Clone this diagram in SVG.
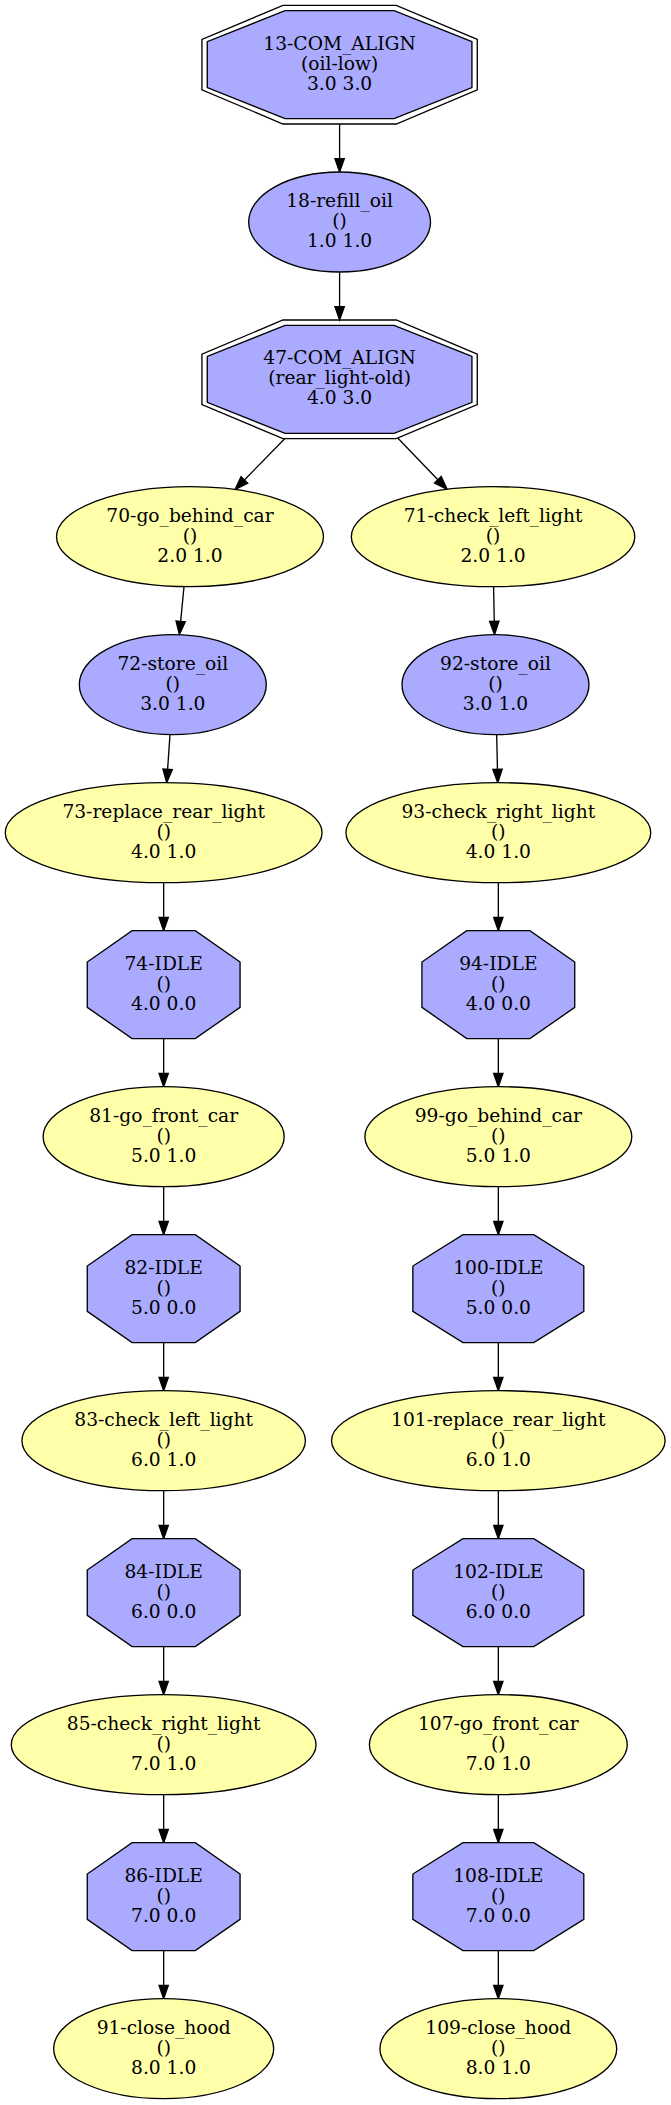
<svg xmlns="http://www.w3.org/2000/svg" width="671" height="2105" viewBox="0 0 671 2105">
<style>
.b{fill:#aaaaff;stroke:#000;stroke-width:1}
.y{fill:#ffffaa;stroke:#000;stroke-width:1}
.o{fill:none;stroke:#000;stroke-width:1}
.e{fill:none;stroke:#000;stroke-width:1;marker-end:url(#ah)}
text{font-family:"DejaVu Serif","Liberation Serif",serif;font-size:14px;text-anchor:middle;fill:#000}
</style>
<defs>
<marker id="ah" markerUnits="userSpaceOnUse" markerWidth="12" markerHeight="9" viewBox="0 -4.5 12 9" refX="0" refY="0" orient="auto" overflow="visible">
<path d="M0,-3.5L10,0L0,3.5z" fill="#000" stroke="#000" stroke-width="1"/>
</marker>
</defs>
<rect width="671" height="2105" fill="#fff"/>
<g transform="scale(1.33333)">
<g id="connectors">
<path class="e" d="M254.7,93V119"/>
<path class="e" d="M254.7,204V230"/>
<path class="e" d="M213.5,329L183.3,360"/>
<path class="e" d="M298.5,328.7L328.4,359.8"/>
<path class="e" d="M138,440L135.5,466"/>
<path class="e" d="M127.5,551L125.7,577"/>
<path class="e" d="M122.75,662V688"/>
<path class="e" d="M122.75,779V805"/>
<path class="e" d="M122.75,890V916"/>
<path class="e" d="M122.75,1007V1033"/>
<path class="e" d="M122.75,1118V1144"/>
<path class="e" d="M122.75,1235V1261"/>
<path class="e" d="M122.75,1346V1372"/>
<path class="e" d="M122.75,1463V1489"/>
<path class="e" d="M370.2,440L370.7,466"/>
<path class="e" d="M372.5,551L373.1,577"/>
<path class="e" d="M373.75,662V688"/>
<path class="e" d="M373.75,779V805"/>
<path class="e" d="M373.75,890V916"/>
<path class="e" d="M373.75,1007V1033"/>
<path class="e" d="M373.75,1118V1144"/>
<path class="e" d="M373.75,1235V1261"/>
<path class="e" d="M373.75,1346V1372"/>
<path class="e" d="M373.75,1463V1489"/>
</g>
<g id="n13">
<polygon class="b" points="353.95,31.3 295.6,8 213.8,8 155.45,31.3 155.45,65.7 213.8,89 295.6,89 353.95,65.7"/>
<polygon class="o" points="357.95,29.6 297.2,4 212.2,4 151.45,29.6 151.45,67.4 212.2,93 297.2,93 357.95,67.4"/>
<text x="254.7" y="37.2">13-COM_ALIGN</text><text x="254.7" y="52.2">(oil-low)</text><text x="254.7" y="67.2">3.0 3.0</text>
</g>
<g id="n18">
<ellipse class="b" cx="254.7" cy="166.5" rx="68.2" ry="37.5"/>
<text x="254.7" y="155.2">18-refill_oil</text><text x="254.7" y="170.2">()</text><text x="254.7" y="185.2">1.0 1.0</text>
</g>
<g id="n47">
<polygon class="b" points="353.95,267.3 295.6,244 213.8,244 155.45,267.3 155.45,301.7 213.8,325 295.6,325 353.95,301.7"/>
<polygon class="o" points="357.95,265.6 297.2,240 212.2,240 151.45,265.6 151.45,303.4 212.2,329 297.2,329 357.95,303.4"/>
<text x="254.7" y="273.2">47-COM_ALIGN</text><text x="254.7" y="288.2">(rear_light-old)</text><text x="254.7" y="303.2">4.0 3.0</text>
</g>
<g id="n70">
<ellipse class="y" cx="142.5" cy="402.5" rx="100.1" ry="37.5"/>
<text x="142.5" y="391.2">70-go_behind_car</text><text x="142.5" y="406.2">()</text><text x="142.5" y="421.2">2.0 1.0</text>
</g>
<g id="n71">
<ellipse class="y" cx="369.8" cy="402.5" rx="106.3" ry="37.5"/>
<text x="369.8" y="391.2">71-check_left_light</text><text x="369.8" y="406.2">()</text><text x="369.8" y="421.2">2.0 1.0</text>
</g>
<g id="n72">
<ellipse class="b" cx="129.6" cy="513.5" rx="70.1" ry="37.5"/>
<text x="129.6" y="502.2">72-store_oil</text><text x="129.6" y="517.2">()</text><text x="129.6" y="532.2">3.0 1.0</text>
</g>
<g id="n92">
<ellipse class="b" cx="371.6" cy="513.5" rx="70.1" ry="37.5"/>
<text x="371.6" y="502.2">92-store_oil</text><text x="371.6" y="517.2">()</text><text x="371.6" y="532.2">3.0 1.0</text>
</g>
<g id="n73">
<ellipse class="y" cx="122.75" cy="624.5" rx="118.8" ry="37.5"/>
<text x="122.75" y="613.2">73-replace_rear_light</text><text x="122.75" y="628.2">()</text><text x="122.75" y="643.2">4.0 1.0</text>
</g>
<g id="n93">
<ellipse class="y" cx="373.75" cy="624.5" rx="114.3" ry="37.5"/>
<text x="373.75" y="613.2">93-check_right_light</text><text x="373.75" y="628.2">()</text><text x="373.75" y="643.2">4.0 1.0</text>
</g>
<g id="n74">
<polygon class="b" points="180.05,721.5 146.45,698 99.05,698 65.45,721.5 65.45,755.5 99.05,779 146.45,779 180.05,755.5"/>
<text x="122.75" y="727.2">74-IDLE</text><text x="122.75" y="742.2">()</text><text x="122.75" y="757.2">4.0 0.0</text>
</g>
<g id="n94">
<polygon class="b" points="431.05,721.5 397.45,698 350.05,698 316.45,721.5 316.45,755.5 350.05,779 397.45,779 431.05,755.5"/>
<text x="373.75" y="727.2">94-IDLE</text><text x="373.75" y="742.2">()</text><text x="373.75" y="757.2">4.0 0.0</text>
</g>
<g id="n81">
<ellipse class="y" cx="122.75" cy="852.5" rx="90.4" ry="37.5"/>
<text x="122.75" y="841.2">81-go_front_car</text><text x="122.75" y="856.2">()</text><text x="122.75" y="871.2">5.0 1.0</text>
</g>
<g id="n99">
<ellipse class="y" cx="373.75" cy="852.5" rx="100.1" ry="37.5"/>
<text x="373.75" y="841.2">99-go_behind_car</text><text x="373.75" y="856.2">()</text><text x="373.75" y="871.2">5.0 1.0</text>
</g>
<g id="n82">
<polygon class="b" points="180.05,949.5 146.45,926 99.05,926 65.45,949.5 65.45,983.5 99.05,1007 146.45,1007 180.05,983.5"/>
<text x="122.75" y="955.2">82-IDLE</text><text x="122.75" y="970.2">()</text><text x="122.75" y="985.2">5.0 0.0</text>
</g>
<g id="n100">
<polygon class="b" points="437.85,949.5 400.3,926 347.2,926 309.65,949.5 309.65,983.5 347.2,1007 400.3,1007 437.85,983.5"/>
<text x="373.75" y="955.2">100-IDLE</text><text x="373.75" y="970.2">()</text><text x="373.75" y="985.2">5.0 0.0</text>
</g>
<g id="n83">
<ellipse class="y" cx="122.75" cy="1080.5" rx="106.3" ry="37.5"/>
<text x="122.75" y="1069.2">83-check_left_light</text><text x="122.75" y="1084.2">()</text><text x="122.75" y="1099.2">6.0 1.0</text>
</g>
<g id="n101">
<ellipse class="y" cx="373.75" cy="1080.5" rx="125.1" ry="37.5"/>
<text x="373.75" y="1069.2">101-replace_rear_light</text><text x="373.75" y="1084.2">()</text><text x="373.75" y="1099.2">6.0 1.0</text>
</g>
<g id="n84">
<polygon class="b" points="180.05,1177.5 146.45,1154 99.05,1154 65.45,1177.5 65.45,1211.5 99.05,1235 146.45,1235 180.05,1211.5"/>
<text x="122.75" y="1183.2">84-IDLE</text><text x="122.75" y="1198.2">()</text><text x="122.75" y="1213.2">6.0 0.0</text>
</g>
<g id="n102">
<polygon class="b" points="437.85,1177.5 400.3,1154 347.2,1154 309.65,1177.5 309.65,1211.5 347.2,1235 400.3,1235 437.85,1211.5"/>
<text x="373.75" y="1183.2">102-IDLE</text><text x="373.75" y="1198.2">()</text><text x="373.75" y="1213.2">6.0 0.0</text>
</g>
<g id="n85">
<ellipse class="y" cx="122.75" cy="1308.5" rx="114.3" ry="37.5"/>
<text x="122.75" y="1297.2">85-check_right_light</text><text x="122.75" y="1312.2">()</text><text x="122.75" y="1327.2">7.0 1.0</text>
</g>
<g id="n107">
<ellipse class="y" cx="373.75" cy="1308.5" rx="96.7" ry="37.5"/>
<text x="373.75" y="1297.2">107-go_front_car</text><text x="373.75" y="1312.2">()</text><text x="373.75" y="1327.2">7.0 1.0</text>
</g>
<g id="n86">
<polygon class="b" points="180.05,1405.5 146.45,1382 99.05,1382 65.45,1405.5 65.45,1439.5 99.05,1463 146.45,1463 180.05,1439.5"/>
<text x="122.75" y="1411.2">86-IDLE</text><text x="122.75" y="1426.2">()</text><text x="122.75" y="1441.2">7.0 0.0</text>
</g>
<g id="n108">
<polygon class="b" points="437.85,1405.5 400.3,1382 347.2,1382 309.65,1405.5 309.65,1439.5 347.2,1463 400.3,1463 437.85,1439.5"/>
<text x="373.75" y="1411.2">108-IDLE</text><text x="373.75" y="1426.2">()</text><text x="373.75" y="1441.2">7.0 0.0</text>
</g>
<g id="n91">
<ellipse class="y" cx="122.75" cy="1536.5" rx="82.5" ry="37.5"/>
<text x="122.75" y="1525.2">91-close_hood</text><text x="122.75" y="1540.2">()</text><text x="122.75" y="1555.2">8.0 1.0</text>
</g>
<g id="n109">
<ellipse class="y" cx="373.75" cy="1536.5" rx="88.8" ry="37.5"/>
<text x="373.75" y="1525.2">109-close_hood</text><text x="373.75" y="1540.2">()</text><text x="373.75" y="1555.2">8.0 1.0</text>
</g>
</g>
</svg>
